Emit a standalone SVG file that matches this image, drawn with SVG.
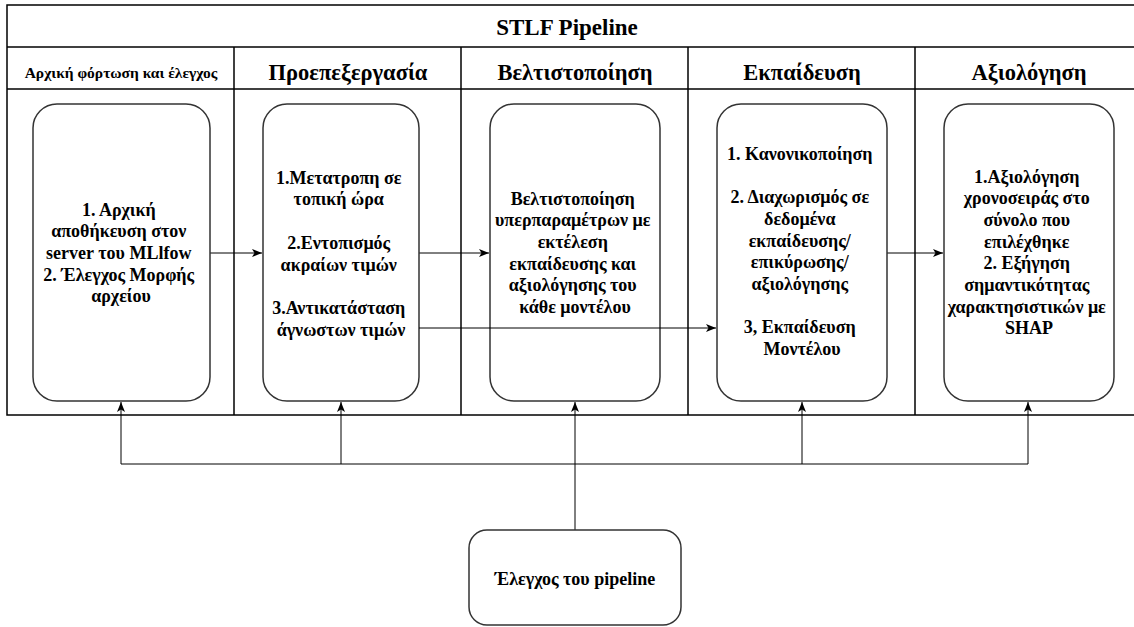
<svg xmlns="http://www.w3.org/2000/svg" width="1134" height="627" viewBox="0 0 1134 627">
  <style>
    .frame { fill: none; stroke: #000; stroke-width: 1.5; }
    .node { fill: #fff; stroke: #333; stroke-width: 1.5; }
    .edge { fill: none; stroke: #000; stroke-width: 1; }
    .t { font-family: "Liberation Serif", "Times New Roman", serif; font-weight: bold; fill: #000; text-anchor: middle; }
    .title { font-size: 23px; }
    .head { font-size: 22.5px; }
    .head-sm { font-size: 15.5px; }
    .body { font-size: 18px; }
  </style>
  <defs>
    <marker id="arrow" markerUnits="userSpaceOnUse" markerWidth="12" markerHeight="10" refX="10" refY="5" orient="auto">
      <path d="M0,1 L10,5 L0,9 L2.5,5 Z" fill="#000"/>
    </marker>
  </defs>

  <rect width="1134" height="627" fill="#fff"/>

  <!-- swimlane pool -->
  <g id="pool">
    <rect class="frame" x="7" y="5" width="1140" height="410"/>
    <line class="frame" x1="7" y1="47" x2="1147" y2="47"/>
    <line class="frame" x1="7" y1="89" x2="1147" y2="89"/>
    <line class="frame" x1="234" y1="47" x2="234" y2="415"/>
    <line class="frame" x1="461" y1="47" x2="461" y2="415"/>
    <line class="frame" x1="688" y1="47" x2="688" y2="415"/>
    <line class="frame" x1="915" y1="47" x2="915" y2="415"/>
    <text class="t title" x="567" y="35">STLF Pipeline</text>
    <text class="t head-sm" x="121" y="78">Αρχική φόρτωση και έλεγχος</text>
    <text class="t head" x="348" y="80">Προεπεξεργασία</text>
    <text class="t head" x="575" y="80">Βελτιστοποίηση</text>
    <text class="t head" x="802" y="80">Εκπαίδευση</text>
    <text class="t head" x="1029" y="80">Αξιολόγηση</text>
  </g>

  <!-- connectors -->
  <g id="connectors">
    <line class="edge" x1="210" y1="253" x2="262" y2="253" marker-end="url(#arrow)"/>
    <line class="edge" x1="419" y1="253" x2="489" y2="253" marker-end="url(#arrow)"/>
    <line class="edge" x1="887" y1="253" x2="943" y2="253" marker-end="url(#arrow)"/>
    <path class="edge" d="M575,530 V402" marker-end="url(#arrow)"/>
    <path class="edge" d="M121,464 H1028"/>
    <path class="edge" d="M121,464 V402" marker-end="url(#arrow)"/>
    <path class="edge" d="M341,464 V402" marker-end="url(#arrow)"/>
    <path class="edge" d="M802,464 V402" marker-end="url(#arrow)"/>
    <path class="edge" d="M1028,464 V402" marker-end="url(#arrow)"/>
  </g>

  <!-- process steps -->
  <g id="load">
    <rect class="node" x="33" y="104" width="177" height="297" rx="24"/>
    <text class="t body" x="121">
      <tspan x="121" y="216">1. Αρχική</tspan>
      <tspan x="121" y="237">αποθήκευση στον</tspan>
      <tspan x="121" y="259">server του MLlfow</tspan>
      <tspan x="121" y="281">2. Έλεγχος Μορφής</tspan>
      <tspan x="121" y="302">αρχείου</tspan>
    </text>
  </g>

  <g id="preprocess">
    <rect class="node" x="263" y="104" width="156" height="297" rx="24"/>
    <text class="t body" x="341">
      <tspan x="341" y="184">1.Μετατροπη σε</tspan>
      <tspan x="341" y="205">τοπική ώρα</tspan>
      <tspan x="341" y="249">2.Εντοπισμός</tspan>
      <tspan x="341" y="271">ακραίων τιμών</tspan>
      <tspan x="341" y="314">3.Αντικατάσταση</tspan>
      <tspan x="341" y="336">άγνωστων τιμών</tspan>
    </text>
  </g>

  <g id="tuning">
    <rect class="node" x="490" y="104" width="170" height="297" rx="24"/>
    <text class="t body" x="575">
      <tspan x="575" y="205">Βελτιστοποίηση</tspan>
      <tspan x="575" y="226">υπερπαραμέτρων με</tspan>
      <tspan x="575" y="248">εκτέλεση</tspan>
      <tspan x="575" y="270">εκπαίδευσης και</tspan>
      <tspan x="575" y="291">αξιολόγησης του</tspan>
      <tspan x="575" y="313">κάθε μοντέλου</tspan>
    </text>
  </g>

  <!-- this edge passes over the tuning box -->
  <g id="connector-skip">
    <line class="edge" x1="419" y1="328" x2="716" y2="328" marker-end="url(#arrow)"/>
  </g>

  <g id="training">
    <rect class="node" x="717" y="104" width="170" height="297" rx="24"/>
    <text class="t body" x="802">
      <tspan x="802" y="160">1. Κανονικοποίηση</tspan>
      <tspan x="802" y="203">2. Διαχωρισμός σε</tspan>
      <tspan x="802" y="225">δεδομένα</tspan>
      <tspan x="802" y="247">εκπαίδευσης/</tspan>
      <tspan x="802" y="268">επικύρωσης/</tspan>
      <tspan x="802" y="290">αξιολόγησης</tspan>
      <tspan x="802" y="333">3, Εκπαίδευση</tspan>
      <tspan x="802" y="355">Μοντέλου</tspan>
    </text>
  </g>

  <g id="evaluation">
    <rect class="node" x="944" y="104" width="170" height="297" rx="24"/>
    <text class="t body" x="1029">
      <tspan x="1029" y="183">1.Αξιολόγηση</tspan>
      <tspan x="1029" y="204">χρονοσειράς στο</tspan>
      <tspan x="1029" y="226">σύνολο που</tspan>
      <tspan x="1029" y="248">επιλέχθηκε</tspan>
      <tspan x="1029" y="269">2. Εξήγηση</tspan>
      <tspan x="1029" y="291">σημαντικότητας</tspan>
      <tspan x="1029" y="313">χαρακτησιστικών με</tspan>
      <tspan x="1029" y="334">SHAP</tspan>
    </text>
  </g>

  <g id="pipeline-control">
    <rect class="node" x="469" y="530" width="212" height="95" rx="18"/>
    <text class="t body" x="575" y="585">Έλεγχος του pipeline</text>
  </g>
</svg>
